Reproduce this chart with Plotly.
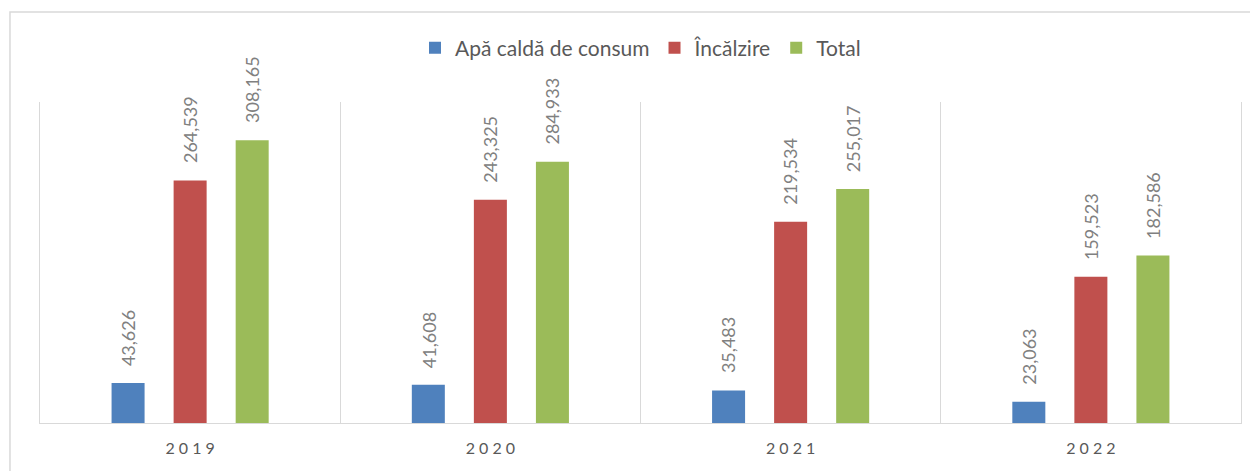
import plotly.graph_objects as go

years = ["2019", "2020", "2021", "2022"]
apa_calda = [43626, 41608, 35483, 23063]
incalzire = [264539, 243325, 219534, 159523]
total = [308165, 284933, 255017, 182586]

series = [
    ("Apă caldă de consum", apa_calda, "#4F81BD"),
    ("Încălzire", incalzire, "#C0504D"),
    ("Total", total, "#9BBB59"),
]
shifts = [-62, 0, 62]

fig = go.Figure()
for name, vals, color in series:
    fig.add_trace(go.Bar(x=years, y=vals, name=name, marker_color=color,
                         marker_line_width=0))

# rotated value labels above each bar (x given as category index)
for (name, vals, color), dx in zip(series, shifts):
    for i, v in enumerate(vals):
        fig.add_annotation(x=i, y=v, text=f"{v:,}", textangle=-90,
                           showarrow=False, xshift=dx, yshift=15,
                           yanchor="bottom",
                           font=dict(size=18, color="#808080"))

# outer chart border
fig.add_shape(type="rect", xref="paper", yref="paper",
              x0=-0.025, x1=1.05, y0=-0.3, y1=1.2804,
              line=dict(color="#d9d9d9", width=1.5), layer="below")

# page body adds an 8px offset, so the figure is 8px smaller
fig.update_layout(
    width=1250, height=463,
    margin=dict(l=32, r=17, t=94, b=48),
    paper_bgcolor="white", plot_bgcolor="white",
    font=dict(family="Lato, Carlito, Calibri, sans-serif", color="#595959"),
    barmode="group", bargap=0.38, bargroupgap=0.468,
    showlegend=True,
    legend=dict(orientation="h", x=0.5, xanchor="center", y=1.168,
                yanchor="middle", font=dict(size=21, color="#595959"),
                itemwidth=30, tracegroupgap=0),
)
fig.update_xaxes(
    type="category", range=[-0.5, len(years) - 0.5], autorange=False,
    tickson="boundaries", showgrid=True,
    gridcolor="#d9d9d9", gridwidth=1, showline=True, linecolor="#d9d9d9",
    ticks="", tickfont=dict(size=16, color="#595959"),
    tickvals=years, ticktext=[" ".join(y) for y in years],
    ticklabelstandoff=11,
)
fig.update_yaxes(range=[0, 350000], autorange=False, showgrid=False,
                 showticklabels=False, zeroline=False, showline=True,
                 mirror=True, linecolor="#d9d9d9", ticks="")

fig.write_html("out.html")
